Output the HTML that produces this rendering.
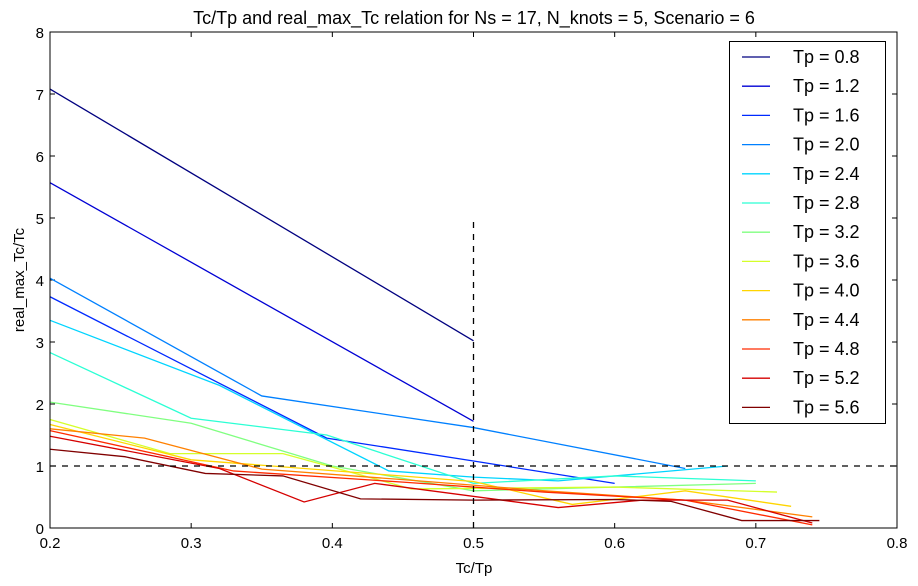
<!DOCTYPE html>
<html><head><meta charset="utf-8"><style>
body{margin:0;background:#fff;}
svg{display:block;font-family:"Liberation Sans",sans-serif;}
</style></head><body>
<svg id="chart" width="918" height="586"></svg>
<script>
const tpLabels=["0.8","1.2","1.6","2.0","2.4","2.8","3.2","3.6","4.0","4.4","4.8","5.2","5.6"];
const s08x=[0.2,0.5], s08y=[7.08,3.02];
const s12x=[0.2,0.5], s12y=[5.57,1.72];
const s16x=[0.2,0.396,0.5,0.6], s16y=[3.73,1.45,1.08,0.72];
const s20x=[0.2,0.35,0.5,0.65], s20y=[4.03,2.13,1.62,0.96];
const s24x=[0.2,0.32,0.44,0.5,0.56,0.68], s24y=[3.35,2.3,0.92,0.82,0.76,1.0];
const s28x=[0.2,0.3,0.396,0.5,0.6,0.7], s28y=[2.83,1.77,1.5,0.72,0.84,0.76];
const s32x=[0.2,0.3,0.4,0.5,0.6,0.7], s32y=[2.03,1.69,1.0,0.6,0.66,0.72];
const s36x=[0.2,0.285,0.365,0.456,0.6,0.715], s36y=[1.75,1.2,1.2,0.63,0.66,0.58];
const s40x=[0.2,0.3,0.5,0.57,0.65,0.725], s40y=[1.67,1.1,0.75,0.38,0.6,0.35];
const s44x=[0.2,0.267,0.35,0.45,0.55,0.65,0.74], s44y=[1.6,1.45,0.95,0.78,0.6,0.45,0.18];
const s48x=[0.2,0.33,0.45,0.55,0.65,0.74], s48y=[1.57,0.92,0.74,0.58,0.45,0.05];
const s52x=[0.2,0.32,0.38,0.43,0.56,0.62,0.68,0.74], s52y=[1.48,0.96,0.42,0.72,0.33,0.45,0.45,0.08];
const s56x=[0.2,0.253,0.31,0.365,0.42,0.5,0.6,0.64,0.69,0.745], s56y=[1.27,1.15,0.88,0.84,0.47,0.45,0.46,0.43,0.12,0.12];
const seriesX=[s08x,s12x,s16x,s20x,s24x,s28x,s32x,s36x,s40x,s44x,s48x,s52x,s56x];
const seriesY=[s08y,s12y,s16y,s20y,s24y,s28y,s32y,s36y,s40y,s44y,s48y,s52y,s56y];
const xTicks=[0.2,0.3,0.4,0.5,0.6,0.7,0.8];
const yTicks=[0,1,2,3,4,5,6,7,8];

const svg=document.getElementById('chart');
const NS='http://www.w3.org/2000/svg';
const L=50,R=897,T=32,B=528;
const xs=v=>L+(v-0.2)/0.6*(R-L);
const ys=v=>B-v/8*(B-T);
function mk(tag,attrs,parent){const e=document.createElementNS(NS,tag);for(const k in attrs)e.setAttribute(k,attrs[k]);(parent||svg).appendChild(e);return e;}
function jet(t){
  const c=x=>Math.round(255*Math.max(0,Math.min(1,x)));
  const r=c(1.5-Math.abs(4*t-3)),g=c(1.5-Math.abs(4*t-2)),b=c(1.5-Math.abs(4*t-1));
  return `rgb(${r},${g},${b})`;
}
// title
let t=mk('text',{x:474,y:24,'text-anchor':'middle','font-size':18});
t.textContent='Tc/Tp and real_max_Tc relation for Ns = 17, N_knots = 5, Scenario = 6';


// ticks
xTicks.forEach(v=>{
  const x=xs(v);
  mk('line',{x1:x,x2:x,y1:B,y2:B-5,stroke:'#000'});
  mk('line',{x1:x,x2:x,y1:T,y2:T+5,stroke:'#000'});
  const tx=mk('text',{x:x,y:B+20,'text-anchor':'middle','font-size':15});
  tx.textContent=v.toFixed(1);
  
  
});
yTicks.forEach(v=>{
  const y=ys(v);
  mk('line',{x1:L,x2:L+5,y1:y,y2:y,stroke:'#000'});
  mk('line',{x1:R,x2:R-5,y1:y,y2:y,stroke:'#000'});
  const tx=mk('text',{x:L-6,y:y+6,'text-anchor':'end','font-size':15});
  tx.textContent=String(v);
  
  
});
let xt=mk('text',{x:474,y:573,'text-anchor':'middle','font-size':15});
xt.textContent='Tc/Tp';


let yt=mk('text',{x:24,y:280,'text-anchor':'middle','font-size':15,transform:'rotate(-90 24 280)'});
yt.textContent='real_max_Tc/Tc';


// series
seriesX.forEach((xa,i)=>{
  const pts=xa.map((x,j)=>xs(x)+','+ys(seriesY[i][j])).join(' ');
  const p=mk('polyline',{points:pts,fill:'none',stroke:jet(i/12),'stroke-width':1.3});
  
  
});
// reference lines
let h=mk('line',{x1:L,x2:R,y1:ys(1),y2:ys(1),stroke:'#000','stroke-dasharray':'6,6','stroke-width':1.3});


let v=mk('line',{x1:xs(0.5),x2:xs(0.5),y1:ys(0),y2:ys(5),stroke:'#000','stroke-dasharray':'6,6','stroke-width':1.3});


// frame
let fr=mk('rect',{x:L,y:T,width:R-L,height:B-T,fill:'none',stroke:'#000','stroke-width':1});


// legend
const lg=mk('g',{});


mk('rect',{x:729.5,y:41.5,width:156,height:382,fill:'#fff',stroke:'#000'},lg);
tpLabels.forEach((lab,i)=>{
  const y=57+i*29.2;
  const g=mk('g',{},lg);
  
  
  mk('line',{x1:742,x2:770,y1:y,y2:y,stroke:jet(i/12),'stroke-width':1.3},g);
  const tx=mk('text',{x:793,y:y+6,'font-size':18},g);
  tx.textContent='Tp = '+lab;
});
</script>
</body></html>
